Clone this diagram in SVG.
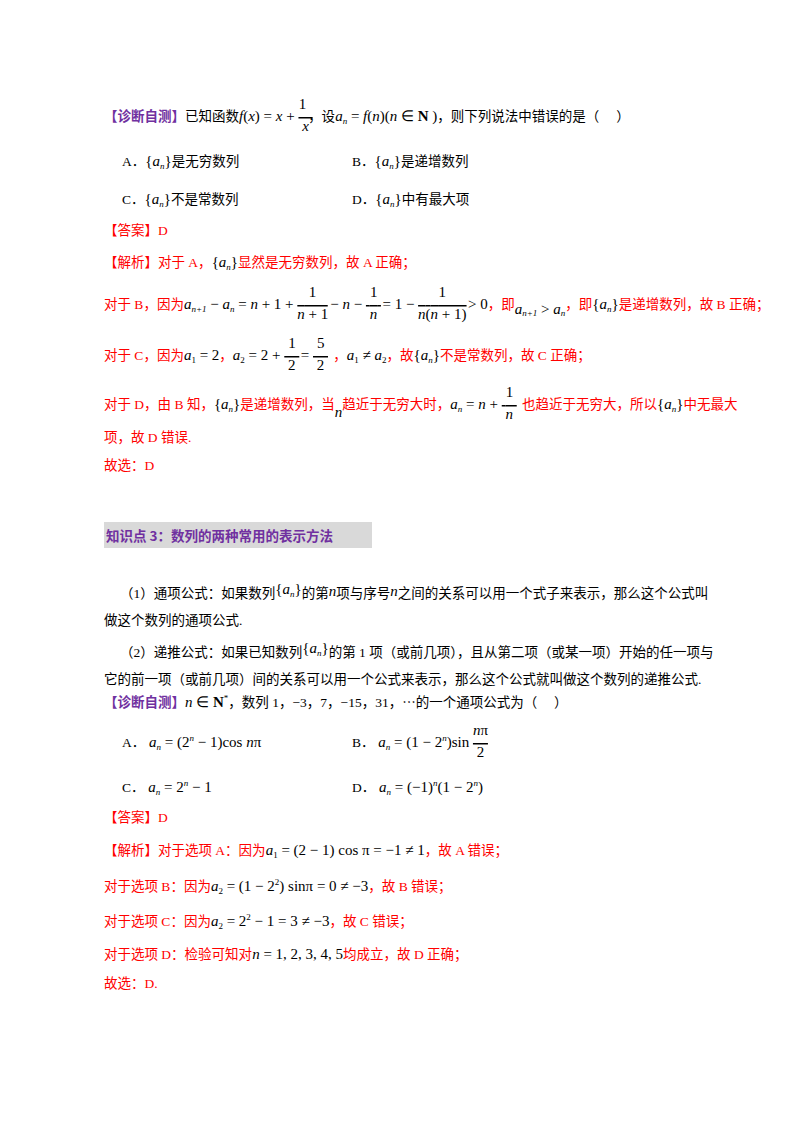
<svg xmlns="http://www.w3.org/2000/svg" width="800" height="1132" viewBox="0 0 800 1132">
<style>
text{font-family:"Liberation Serif","Noto Sans CJK SC",serif;font-size:13.5px;fill:#000}
.p{fill:#7030A0;font-weight:bold;font-family:"Noto Sans CJK SC",sans-serif}
.r{fill:#FF0000}
.k{fill:#000}
.m{font-family:"Liberation Serif",serif;font-size:15px}
.i{font-style:italic}
.s{font-size:9px}
</style>
<rect width="800" height="1132" fill="#fff"/>
<g id="problem1">
<text x="104" y="121"><tspan class="p">【诊断自测】</tspan>已知函数<tspan class="m"><tspan class="i">f</tspan>(<tspan class="i">x</tspan>) = <tspan class="i">x</tspan> + <tspan dy="10" text-decoration="overline" class="i">&#160;x&#160;</tspan><tspan dx="-14" dy="-22">1</tspan></tspan><tspan dx="2" dy="12">，设</tspan><tspan class="m"><tspan class="i">a</tspan><tspan class="s i" dy="3">n</tspan><tspan dy="-3"> = </tspan><tspan class="i">f</tspan>(<tspan class="i">n</tspan>)(<tspan class="i">n</tspan> ∈ <tspan font-weight="bold">N</tspan>&#160;)</tspan>，则下列说法中错误的是（　 ）</text>
<text x="122" y="166">A．<tspan class="m">{<tspan class="i">a</tspan><tspan class="s i" dy="3">n</tspan><tspan dy="-3">}</tspan></tspan>是无穷数列</text>
<text x="352" y="166">B．<tspan class="m">{<tspan class="i">a</tspan><tspan class="s i" dy="3">n</tspan><tspan dy="-3">}</tspan></tspan>是递增数列</text>
<text x="122" y="204">C．<tspan class="m">{<tspan class="i">a</tspan><tspan class="s i" dy="3">n</tspan><tspan dy="-3">}</tspan></tspan>不是常数列</text>
<text x="352" y="204">D．<tspan class="m">{<tspan class="i">a</tspan><tspan class="s i" dy="3">n</tspan><tspan dy="-3">}</tspan></tspan>中有最大项</text>
<text x="104" y="235" class="r">【答案】D</text>
<text x="104" y="267" class="r">【解析】对于 A，<tspan class="m k">{<tspan class="i">a</tspan><tspan class="s i" dy="3">n</tspan><tspan dy="-3">}</tspan></tspan>显然是无穷数列，故 A 正确；</text>
<text x="104" y="309" class="r">对于 B，因为<tspan class="m k"><tspan class="i">a</tspan><tspan class="s i" dy="3">n+1</tspan><tspan dy="-3"> − </tspan><tspan class="i">a</tspan><tspan class="s i" dy="3">n</tspan><tspan dy="-3"> = </tspan><tspan class="i">n</tspan> + 1 + <tspan dy="10" text-decoration="overline"><tspan class="i">n</tspan> + 1</tspan><tspan dx="-19" dy="-22">1</tspan><tspan dx="14" dy="12">− </tspan><tspan class="i">n</tspan> − <tspan dy="10" text-decoration="overline">&#160;<tspan class="i">n</tspan>&#160;</tspan><tspan dx="-11" dy="-22">1</tspan><tspan dx="5" dy="12">= 1 − </tspan><tspan dy="10" text-decoration="overline"><tspan class="i">n</tspan>(<tspan class="i">n</tspan> + 1)</tspan><tspan dx="-28" dy="-22">1</tspan><tspan dx="22" dy="12">&gt; 0</tspan></tspan>，即<tspan class="m k" font-size="12" dy="5"><tspan class="i">a</tspan><tspan class="s i" dy="2">n+1</tspan><tspan dy="-2"> &gt; </tspan><tspan class="i">a</tspan><tspan class="s i" dy="2">n</tspan></tspan><tspan dy="-7">，即</tspan><tspan class="m k">{<tspan class="i">a</tspan><tspan class="s i" dy="3">n</tspan><tspan dy="-3">}</tspan></tspan>是递增数列，故 B 正确；</text>
<text x="104" y="360" class="r">对于 C，因为<tspan class="m k"><tspan class="i">a</tspan><tspan class="s" dy="3">1</tspan><tspan dy="-3"> = 2</tspan></tspan>，<tspan class="m k"><tspan class="i">a</tspan><tspan class="s" dy="3">2</tspan><tspan dy="-3"> = 2 + </tspan><tspan dy="10" text-decoration="overline">&#160;2&#160;</tspan><tspan dx="-11" dy="-22">1</tspan><tspan dx="5" dy="12">= </tspan><tspan dy="10" text-decoration="overline">&#160;2&#160;</tspan><tspan dx="-11" dy="-22">5</tspan><tspan dx="5" dy="12">&#160;</tspan></tspan>，<tspan class="m k"><tspan class="i">a</tspan><tspan class="s" dy="3">1</tspan><tspan dy="-3"> ≠ </tspan><tspan class="i">a</tspan><tspan class="s" dy="3">2</tspan></tspan><tspan dy="-3">，故</tspan><tspan class="m k">{<tspan class="i">a</tspan><tspan class="s i" dy="3">n</tspan><tspan dy="-3">}</tspan></tspan>不是常数列，故 C 正确；</text>
<text x="104" y="409" class="r">对于 D，由 B 知，<tspan class="m k">{<tspan class="i">a</tspan><tspan class="s i" dy="3">n</tspan><tspan dy="-3">}</tspan></tspan>是递增数列，当<tspan class="m k i" dy="8">n</tspan><tspan dy="-8">趋近于无穷大时，</tspan><tspan class="m k"><tspan class="i">a</tspan><tspan class="s i" dy="3">n</tspan><tspan dy="-3"> = </tspan><tspan class="i">n</tspan> + <tspan dy="10" text-decoration="overline">&#160;<tspan class="i">n</tspan>&#160;</tspan><tspan dx="-11" dy="-22">1</tspan><tspan dx="5" dy="12">&#160;</tspan></tspan>也趋近于无穷大，所以<tspan class="m k">{<tspan class="i">a</tspan><tspan class="s i" dy="3">n</tspan><tspan dy="-3">}</tspan></tspan>中无最大</text>
<text x="104" y="442" class="r">项，故 D 错误.</text>
<text x="104" y="470" class="r">故选：D</text>
</g>
<g id="header">
<rect x="104" y="522" width="268" height="26" fill="#D9D9D9"/>
<text x="106" y="541" class="p" font-size="15">知识点 3：数列的两种常用的表示方法</text>
</g>
<g id="definitions">
<text x="120" y="598">（1）通项公式：如果数列<tspan class="m" font-size="13" dy="-4">{<tspan class="i">a</tspan><tspan class="s i" dy="3">n</tspan><tspan dy="-3">}</tspan></tspan><tspan dy="4">的第</tspan><tspan class="m i" dy="-2">n</tspan><tspan dy="2">项与序号</tspan><tspan class="m i" dy="-2">n</tspan><tspan dy="2">之间的关系可以用一个式子来表示，那么这个公式叫</tspan></text>
<text x="104" y="625">做这个数列的通项公式.</text>
<text x="120" y="657">（2）递推公式：如果已知数列<tspan class="m" font-size="13" dy="-4">{<tspan class="i">a</tspan><tspan class="s i" dy="3">n</tspan><tspan dy="-3">}</tspan></tspan><tspan dy="4">的第 1 项（或前几项），且从第二项（或某一项）开始的任一项与</tspan></text>
<text x="104" y="684">它的前一项（或前几项）间的关系可以用一个公式来表示，那么这个公式就叫做这个数列的递推公式.</text>
</g>
<g id="problem2">
<text x="104" y="707"><tspan class="p">【诊断自测】</tspan><tspan class="m"><tspan class="i">n</tspan> ∈ <tspan font-weight="bold">N</tspan><tspan class="s" dy="-6">*</tspan></tspan><tspan dy="6">，数列 1，−3，7，−15，31，⋯的一个通项公式为（　 ）</tspan></text>
<text x="122" y="747">A．<tspan class="m">&#160;<tspan class="i">a</tspan><tspan class="s i" dy="3">n</tspan><tspan dy="-3"> = (2</tspan><tspan class="s i" dy="-6">n</tspan><tspan dy="6"> − 1)cos </tspan><tspan class="i">n</tspan>π</tspan></text>
<text x="352" y="747">B．<tspan class="m">&#160;<tspan class="i">a</tspan><tspan class="s i" dy="3">n</tspan><tspan dy="-3"> = (1 − 2</tspan><tspan class="s i" dy="-6">n</tspan><tspan dy="6">)sin&#160;</tspan><tspan dy="10" text-decoration="overline">&#160;2&#160;</tspan><tspan dx="-15" dy="-22" class="i">n</tspan>π</tspan></text>
<text x="122" y="792">C．<tspan class="m">&#160;<tspan class="i">a</tspan><tspan class="s i" dy="3">n</tspan><tspan dy="-3"> = 2</tspan><tspan class="s i" dy="-6">n</tspan><tspan dy="6"> − 1</tspan></tspan></text>
<text x="352" y="792">D．<tspan class="m">&#160;<tspan class="i">a</tspan><tspan class="s i" dy="3">n</tspan><tspan dy="-3"> = (−1)</tspan><tspan class="s i" dy="-6">n</tspan><tspan dy="6">(1 − 2</tspan><tspan class="s i" dy="-6">n</tspan><tspan dy="6">)</tspan></tspan></text>
<text x="104" y="822" class="r">【答案】D</text>
<text x="104" y="855" class="r">【解析】对于选项 A：因为<tspan class="m k"><tspan class="i">a</tspan><tspan class="s" dy="3">1</tspan><tspan dy="-3"> = (2 − 1) cos π = −1 ≠ 1</tspan></tspan>，故 A 错误；</text>
<text x="104" y="891" class="r">对于选项 B：因为<tspan class="m k"><tspan class="i">a</tspan><tspan class="s" dy="3">2</tspan><tspan dy="-3"> = (1 − 2</tspan><tspan class="s" dy="-6">2</tspan><tspan dy="6">) sinπ = 0 ≠ −3</tspan></tspan>，故 B 错误；</text>
<text x="104" y="926" class="r">对于选项 C：因为<tspan class="m k"><tspan class="i">a</tspan><tspan class="s" dy="3">2</tspan><tspan dy="-3"> = 2</tspan><tspan class="s" dy="-6">2</tspan><tspan dy="6"> − 1 = 3 ≠ −3</tspan></tspan>，故 C 错误；</text>
<text x="104" y="959" class="r">对于选项 D：检验可知对<tspan class="m k"><tspan class="i">n</tspan> = 1, 2, 3, 4, 5</tspan>均成立，故 D 正确；</text>
<text x="104" y="988" class="r">故选：D.</text>
</g>
</svg>
